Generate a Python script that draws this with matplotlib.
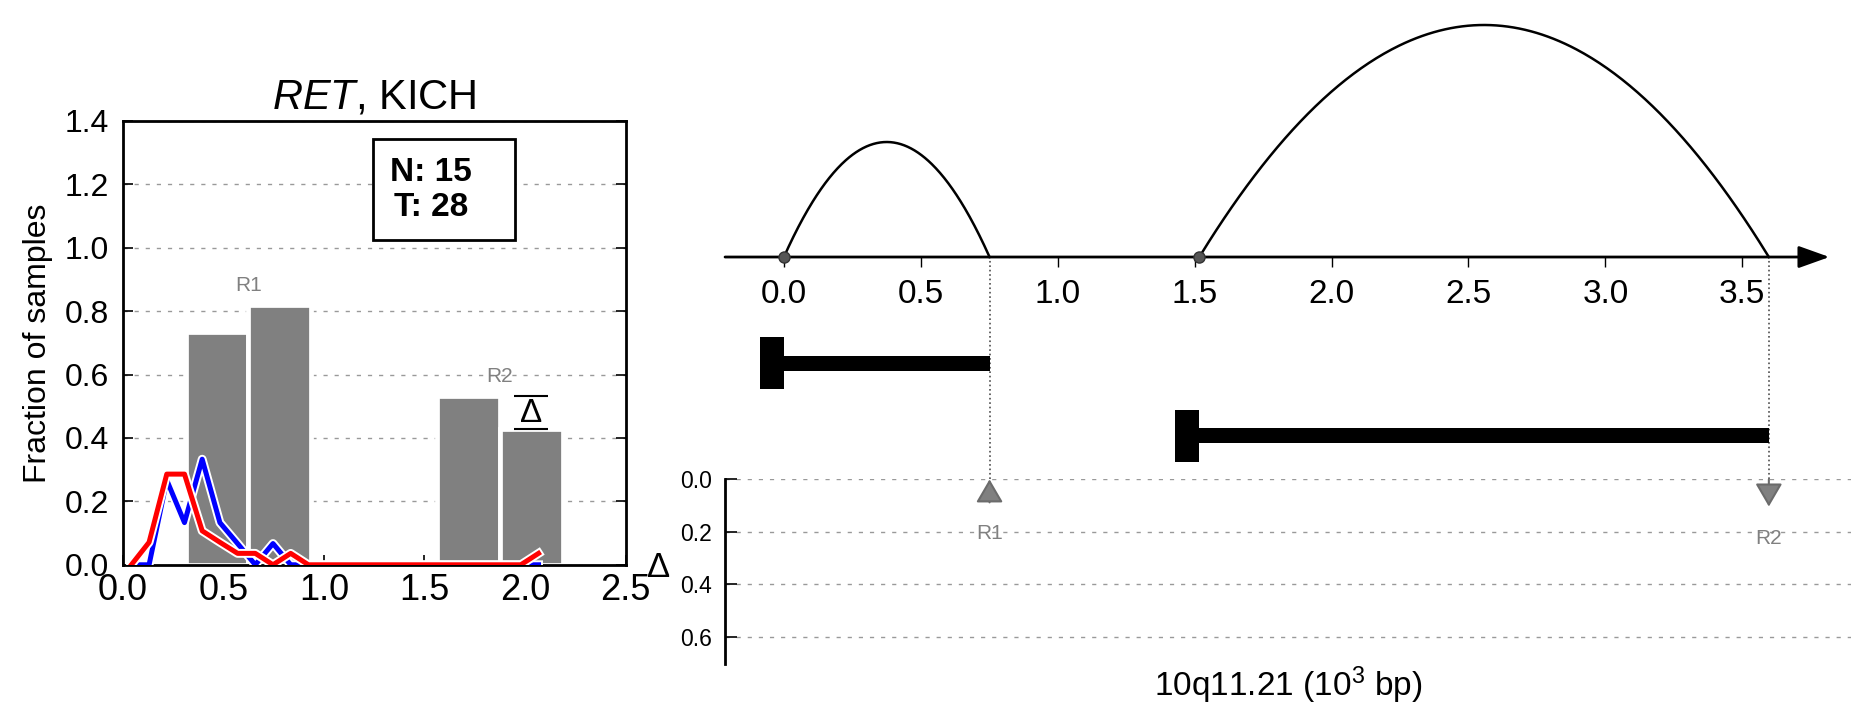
import numpy as np
import matplotlib
matplotlib.use('Agg')
import matplotlib.pyplot as plt
import matplotlib.patheffects as pe
from matplotlib.patches import Rectangle

plt.rcParams['font.family'] = ['Liberation Sans', 'DejaVu Sans']
plt.rcParams['mathtext.fontset'] = 'custom'
plt.rcParams['mathtext.rm'] = 'Liberation Sans'
plt.rcParams['mathtext.it'] = 'Liberation Sans:italic'
plt.rcParams['mathtext.bf'] = 'Liberation Sans:bold'

# ---------------- data ----------------
gene_name = 'RET'
cohort = 'KICH'
n_normal = 15
n_tumor = 28
regions = ['R1', 'R2']
region_centers = [0.625, 1.875]
normal_frac = [0.733, 0.533]
tumor_frac = [0.821, 0.429]
significant = [False, True]

dist_x = [0.043, 0.131, 0.219, 0.307, 0.395, 0.483, 0.571, 0.659, 0.747, 0.835,
          0.923, 1.011, 1.099, 1.187, 1.275, 1.363, 1.451, 1.539, 1.627, 1.715,
          1.803, 1.891, 1.979, 2.067]
normal_dist = [0.0, 0.0, 0.267, 0.133, 0.333, 0.133, 0.067, 0.0, 0.067, 0.0,
               0.0, 0.0, 0.0, 0.0, 0.0, 0.0, 0.0, 0.0, 0.0, 0.0,
               0.0, 0.0, 0.0, 0.0]
tumor_dist = [0.0, 0.071, 0.286, 0.286, 0.107, 0.071, 0.036, 0.036, 0.0, 0.036,
              0.0, 0.0, 0.0, 0.0, 0.0, 0.0, 0.0, 0.0, 0.0, 0.0,
              0.0, 0.0, 0.0, 0.036]

band = '10q11.21'
seg_starts = [0.0, 1.517]
seg_ends = [0.751, 3.597]
arc_heights = [115, 232]
region_pos = [0.751, 3.597]
left_ticks = [0.0, 0.5, 1.0, 1.5, 2.0, 2.5]
left_yticks = [0.0, 0.2, 0.4, 0.6, 0.8, 1.0, 1.2, 1.4]
coord_ticks = [0.0, 0.5, 1.0, 1.5, 2.0, 2.5, 3.0, 3.5]
delta_ticks = [0.0, 0.2, 0.4, 0.6]

GRAY = '#808080'
DASH = (0, (3, 5))
GRID = '0.6'

fig = plt.figure(figsize=(18.51, 7.18), dpi=100)

# ---------------- left panel ----------------
ax = fig.add_axes([0.0663, 0.2134, 0.2717, 0.6181])
ax.set_xlim(0, 2.5)
ax.set_ylim(0, 1.4)
bw = 0.3125
for i, c in enumerate(region_centers):
    ax.bar(c - bw / 2, normal_frac[i], width=bw, color=GRAY, edgecolor='white',
           linewidth=3.4, zorder=2)
    ax.bar(c + bw / 2, tumor_frac[i], width=bw, color=GRAY, edgecolor='white',
           linewidth=3.4, zorder=2)
    ax.text(c, max(normal_frac[i], tumor_frac[i]) + 0.03, regions[i],
            ha='center', va='bottom', color='0.5', fontsize=15, zorder=3)
    if significant[i]:
        xc = c + bw / 2
        ax.hlines([normal_frac[i], tumor_frac[i]], xc - 0.085, xc + 0.085,
                  colors='black', lw=1.5, zorder=4)
        ax.text(xc, (normal_frac[i] + tumor_frac[i]) / 2 - 0.005, 'Δ', ha='center',
                va='center', fontsize=24, zorder=4)

ax.plot(dist_x, normal_dist, color='blue', lw=3.6, zorder=5,
        path_effects=[pe.Stroke(linewidth=6.4, foreground='white'), pe.Normal()])
ax.plot(dist_x, tumor_dist, color='red', lw=3.6, zorder=6,
        path_effects=[pe.Stroke(linewidth=6.4, foreground='white'), pe.Normal()])

ax.add_patch(Rectangle((1.244, 1.025), 0.707, 0.318, fill=True, fc='white',
                       ec='black', lw=2, zorder=7))
ax.text(1.33, 1.183, f'N: {n_normal}\nT: {n_tumor}', ha='left', va='center',
        multialignment='center', fontsize=24, fontweight='bold', zorder=8,
        linespacing=1.15)

ax.set_xticks(left_ticks)
ax.set_xticklabels([f'{v:.1f}' for v in left_ticks])
ax.set_yticks(left_yticks)
ax.set_yticklabels([f'{v:.1f}' for v in left_yticks])
ax.tick_params(axis='both', direction='in', width=1.2, length=7.5)
ax.tick_params(axis='y', left=True, right=True, pad=10, labelsize=23)
ax.tick_params(axis='x', top=False, pad=6, labelsize=26)
ax.grid(axis='y', color=GRID, linestyle=DASH, lw=1, zorder=0)
ax.set_axisbelow(True)
for s in ax.spines.values():
    s.set_linewidth(2)
ax.set_ylabel('Fraction of samples', fontsize=23, labelpad=8)
ax.set_title(rf'$\mathit{{{gene_name}}}$, {cohort}', fontsize=30, pad=9)

# ---------------- right top (arcs + genes) ----------------
xl = (-0.215, 3.897)
axt = fig.add_axes([0.3917, 0.3324, 0.6083, 0.6676])
axt.set_xlim(*xl)
axt.set_ylim(-222.3, 257)
for k in ['top', 'left', 'right']:
    axt.spines[k].set_visible(False)
axt.spines['bottom'].set_position(('data', 0))
axt.spines['bottom'].set_visible(False)
axt.set_yticks([])
axt.set_xticks(coord_ticks)
axt.set_xticklabels([f'{v:.1f}' for v in coord_ticks])
axt.tick_params(axis='x', direction='out', length=7.5, width=1, labelsize=24, pad=8)

axt.annotate('', xy=(3.818, 0), xytext=(xl[0], 0),
             arrowprops=dict(arrowstyle='-|>,head_length=1.9,head_width=0.68',
                             mutation_scale=10, lw=2, color='black',
                             shrinkA=0, shrinkB=0), zorder=3)
tt = np.linspace(0, 1, 300)
for s, e, h in zip(seg_starts, seg_ends, arc_heights):
    axt.plot(s + (e - s) * tt, h * 4 * tt * (1 - tt), color='black', lw=1.8, zorder=4)
axt.plot(seg_starts, [0] * len(seg_starts), 'o', ms=8, mfc='#555555', mec='#333333',
         zorder=5)
axt.vlines(region_pos, -222.3, 0, colors='0.3', linestyles=':', lw=1.2, zorder=1)

row_y = [-106.3, -178.8]
for s, e, y in zip(seg_starts, seg_ends, row_y):
    axt.add_patch(Rectangle((s, y - 7.5), e - s, 15, fc='black', ec='none', zorder=2))
    axt.add_patch(Rectangle((s - 0.087, y - 26), 0.087, 52, fc='black', ec='none',
                            zorder=2))

# ---------------- right bottom (delta) ----------------
axb = fig.add_axes([0.3917, 0.0752, 0.6083, 0.2572])
axb.set_xlim(*xl)
axb.set_ylim(0.705, 0)
for k in ['top', 'bottom', 'right']:
    axb.spines[k].set_visible(False)
axb.spines['left'].set_linewidth(2)
axb.set_xticks([])
axb.set_yticks(delta_ticks)
axb.set_yticklabels([f'{v:.1f}' for v in delta_ticks])
axb.tick_params(axis='y', direction='in', length=8.4, width=1.2, labelsize=16.5, pad=9.5)
axb.grid(axis='y', color=GRID, linestyle=DASH, lw=1)

for i, x in enumerate(region_pos):
    d = tumor_frac[i] - normal_frac[i]
    if d > 0:
        tip, tail = 0.0, d
    else:
        tip, tail = -d, 0.0
    axb.annotate('', xy=(x, tip), xytext=(x, tail),
                 arrowprops=dict(arrowstyle='-|>,head_length=1.44,head_width=0.84',
                                 mutation_scale=10, lw=1.5, fc='0.5', ec='0.42',
                                 shrinkA=0, shrinkB=0))
    axb.text(x, abs(d) + 0.12, regions[i], ha='center', va='center', color='0.5',
             fontsize=15)

axb.set_xlabel(f'{band} (10$^3$ bp)', fontsize=24, labelpad=0)
axb.set_ylabel('Δ', rotation=0, ha='right', va='center', fontsize=25)
axb.yaxis.set_label_coords(-0.049, 0.52)

fig.savefig('out.png', dpi=100)
